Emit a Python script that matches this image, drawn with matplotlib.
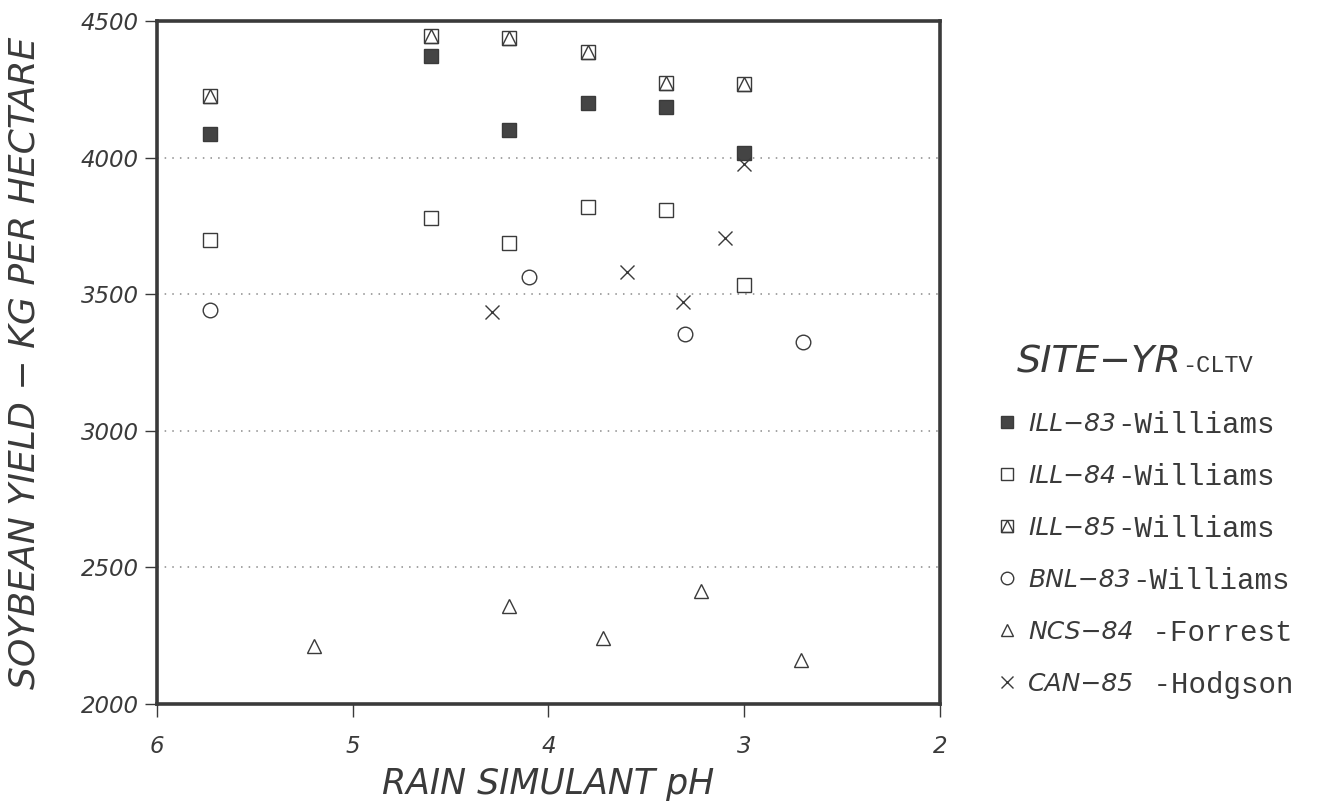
import matplotlib
matplotlib.use("Agg")
import matplotlib.pyplot as plt
from matplotlib.lines import Line2D

# rain simulant pH and soybean yield (kg/ha)
ph_ill = [5.73, 4.6, 4.2, 3.8, 3.4, 3.0]
ill83 = [4088, 4370, 4102, 4200, 4184, 4015]
ill84 = [3697, 3777, 3686, 3818, 3807, 3533]
ill85 = [4226, 4446, 4438, 4387, 4274, 4271]
ph_bnl = [5.73, 4.1, 3.3, 2.7]
bnl83 = [3443, 3562, 3355, 3325]
ph_ncs = [5.2, 4.2, 3.72, 3.22, 2.71]
ncs84 = [2213, 2358, 2241, 2412, 2161]
ph_can = [4.29, 3.6, 3.31, 3.1, 3.0]
can85 = [3434, 3580, 3471, 3706, 3975]

sites = ["ILL\u221283", "ILL\u221284", "ILL\u221285", "BNL\u221283", "NCS\u221284", "CAN\u221285"]
cultivars = ["-Williams", "-Williams", "-Williams", "-Williams", " -Forrest", " -Hodgson"]

xticks = [6, 5, 4, 3, 2]
yticks = [2000, 2500, 3000, 3500, 4000, 4500]

ink = "#3a3a3a"
sans = "DejaVu Sans"
mono = "Liberation Mono"

fig = plt.figure(figsize=(13.21, 8.09), dpi=100)
ax = fig.add_axes([0.1188, 0.1298, 0.5927, 0.8443])

ms = 10.5
ax.plot(ph_ill, ill83, ls="none", marker="s", ms=ms, mfc="#444444", mec=ink, mew=1)
ax.plot(ph_ill, ill84, ls="none", marker="s", ms=ms, mfc="none", mec=ink, mew=1)
ax.plot(ph_ill, ill85, ls="none", marker="s", ms=ms, mfc="none", mec=ink, mew=1)
ax.plot(ph_ill, ill85, ls="none", marker="^", ms=ms, mfc="none", mec=ink, mew=1)
ax.plot(ph_bnl, bnl83, ls="none", marker="o", ms=ms, mfc="none", mec=ink, mew=1)
ax.plot(ph_ncs, ncs84, ls="none", marker="^", ms=ms, mfc="none", mec=ink, mew=1)
ax.plot(ph_can, can85, ls="none", marker="x", ms=ms, mfc="none", mec=ink, mew=1)

ax.set_xlim(6, 2)
ax.set_ylim(2000, 4500)
ax.set_xticks(xticks)
ax.set_yticks(yticks)
ax.set_xticklabels([str(v) for v in xticks])
ax.set_yticklabels([str(v) for v in yticks])

for v in yticks[1:-1]:
    ax.axhline(v, color="#8a8a8a", lw=1.1, ls=(0, (1, 4)), zorder=0)

for s in ax.spines.values():
    s.set_linewidth(2.6)
    s.set_color(ink)
ax.tick_params(direction="out", length=9, width=1, color=ink, labelcolor=ink,
               labelsize=16.5, pad=4)
ax.tick_params(axis="x", pad=13)
for lab in ax.get_xticklabels() + ax.get_yticklabels():
    lab.set_family(sans)
    lab.set_style("italic")

ax.set_xlabel("RAIN SIMULANT pH", fontsize=25, family=sans, style="italic",
              color=ink, labelpad=7)
ax.set_ylabel("SOYBEAN YIELD \u2212 KG PER HECTARE", fontsize=26, family=sans,
              style="italic", color=ink, labelpad=28)

# legend: marker + italic site/year, monospace cultivar appended after
kw = dict(ls="none", ms=9, mec=ink, mew=1)
handles = [
    Line2D([], [], marker="s", mfc="#444444", **kw),
    Line2D([], [], marker="s", mfc="none", **kw),
    (Line2D([], [], marker="s", mfc="none", **kw), Line2D([], [], marker="^", mfc="none", **kw)),
    Line2D([], [], marker="o", mfc="none", **kw),
    Line2D([], [], marker="^", mfc="none", **kw),
    Line2D([], [], marker="x", mfc="none", **kw),
]
leg = fig.legend(handles, sites, loc="upper left", bbox_to_anchor=(0.748, 0.503),
                 frameon=False, handlelength=0.75, handletextpad=0.45,
                 labelspacing=1.12, borderaxespad=0,
                 prop={"family": sans, "style": "italic", "size": 18})
for t in leg.get_texts():
    t.set_color(ink)

t1 = fig.text(0.770, 0.540, "SITE\u2212YR", fontsize=27.5, family=sans, style="italic",
              color=ink, va="baseline")

fig.canvas.draw()
r = fig.canvas.get_renderer()
W, H = fig.bbox.width, fig.bbox.height
bb = t1.get_window_extent(r)
fig.text(bb.x1 / W, 0.540, "-CLTV", fontsize=17, family=mono, color=ink, va="baseline")
for t, cv in zip(leg.get_texts(), cultivars):
    bb = t.get_window_extent(r)
    fig.text(bb.x1 / W + 0.001, bb.y0 / H + 0.004, cv, fontsize=21, family=mono,
             color=ink, va="baseline")

fig.savefig("out.png", dpi=100)
